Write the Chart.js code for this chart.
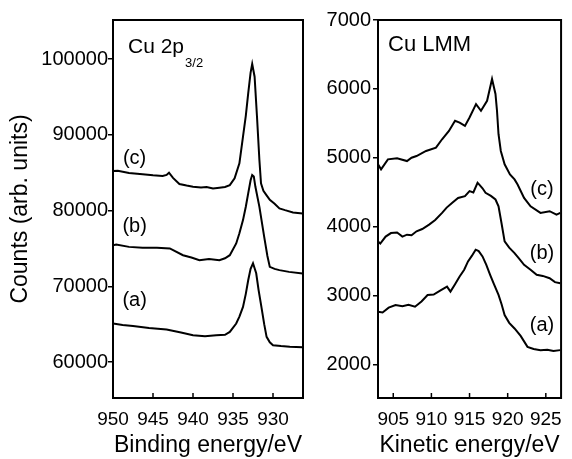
<!DOCTYPE html>
<html>
<head>
<meta charset="utf-8">
<script src="https://cdn.jsdelivr.net/npm/chart.js@4.4.0/dist/chart.umd.min.js"></script>
<style>
  body { margin: 0; background: #fff; }
  #left { position: absolute; left: 0; top: 0; }
  #right { position: absolute; left: 300px; top: 0; }
</style>
</head>
<body>
<canvas id="left" width="310" height="459"></canvas>
<canvas id="right" width="272" height="459"></canvas>
<script>
// Cu 2p3/2 spectra (binding energy, eV / counts)
const bindC = [950, 949.4, 948, 946.3, 945, 943.8, 943.3, 943.0, 942.5, 941.7, 940.8, 940, 939, 938.3, 937.5, 936.7, 936, 935.4, 934.8, 934.2, 933.75, 933.4, 933.1, 932.8, 932.6, 932.3, 932.0, 931.7, 931.5, 931.2, 930.8, 930.4, 929.8, 929.2, 928.5, 927.5, 926.3];
const countsC = [85200, 85250, 84950, 84800, 84650, 84550, 84700, 84990, 84300, 83500, 83300, 83150, 83050, 83100, 82900, 83000, 83100, 83350, 84240, 86220, 89740, 92500, 95470, 98200, 99340, 97660, 92380, 86660, 83580, 82600, 82000, 81400, 80900, 80280, 80050, 79750, 79620];
const bindB = [950, 949.6, 948, 946.3, 944.5, 942.9, 941.25, 940.2, 939.2, 938, 936.7, 936, 935.4, 934.6, 934.2, 933.75, 933.4, 933.1, 932.8, 932.6, 932.4, 932.2, 931.7, 931.1, 930.7, 930.4, 929.8, 929.2, 928, 926.3];
const countsB = [75400, 75520, 75200, 75070, 75100, 74990, 74100, 73800, 73450, 73600, 73450, 73700, 74100, 75650, 77000, 78730, 80500, 82260, 84000, 84680, 84500, 83130, 80490, 76530, 74000, 72560, 72300, 72130, 71900, 71690];
const bindA = [950, 948.8, 947.5, 945.5, 943.3, 941.5, 940, 938.5, 937.1, 936, 935.4, 934.6, 934.2, 933.75, 933.4, 933.1, 932.8, 932.5, 932.1, 931.8, 931.45, 931.1, 930.8, 930.4, 930, 929, 927.9, 926.3];
const countsA = [65080, 64900, 64770, 64500, 64300, 63900, 63540, 63400, 63540, 63600, 63980, 65080, 66000, 67280, 69000, 70800, 72300, 73030, 71710, 69500, 67280, 65000, 63320, 62600, 62220, 62100, 62000, 61960];

// Cu LMM spectra (kinetic energy, eV / counts)
const kinC = [903, 903.4, 904.3, 905.5, 906.8, 907.4, 908.05, 909.3, 910.6, 911.4, 912.3, 913.1, 913.7, 914.4, 915.0, 915.85, 916.5, 917.3, 917.95, 918.4, 918.6, 918.8, 919.1, 919.6, 920.3, 920.9, 921.3, 922.15, 923.0, 924.3, 925.5, 926.4, 926.9];
const lmmC = [4908, 4835, 4980, 4995, 4955, 5003, 5028, 5101, 5149, 5271, 5392, 5538, 5513, 5465, 5586, 5781, 5684, 5829, 6145, 5927, 5684, 5344, 5101, 4908, 4762, 4689, 4616, 4421, 4300, 4203, 4228, 4179, 4203];
const kinB = [903, 903.3, 904.0, 904.7, 905.5, 906.2, 906.8, 907.4, 908.05, 908.8, 909.7, 910.5, 911.4, 912.0, 912.7, 913.5, 914.4, 915.0, 915.5, 916.05, 916.25, 916.7, 917.1, 917.8, 918.4, 918.8, 919.2, 919.6, 920.2, 920.9, 921.5, 922.15, 923.0, 923.8, 924.6, 925.5, 926.2, 926.9];
const lmmB = [3790, 3760, 3860, 3911, 3920, 3860, 3888, 3880, 3937, 3970, 4034, 4100, 4203, 4280, 4348, 4420, 4446, 4520, 4500, 4640, 4616, 4560, 4494, 4450, 4398, 4300, 4050, 3790, 3700, 3620, 3540, 3451, 3380, 3306, 3290, 3257, 3200, 3184];
const kinA = [903, 903.6, 904.4, 905.3, 906.2, 907.0, 907.85, 908.7, 909.5, 910.3, 911.2, 912.05, 912.5, 913.1, 913.7, 914.3, 914.8, 915.3, 915.8, 916.2, 916.7, 917.2, 917.7, 918.2, 918.8, 919.2, 919.6, 920.2, 920.9, 921.7, 922.6, 923.4, 924.3, 925.2, 926.0, 926.9];
const lmmA = [2771, 2760, 2830, 2869, 2850, 2870, 2844, 2920, 3014, 3020, 3080, 3135, 3063, 3170, 3281, 3380, 3500, 3580, 3670, 3650, 3572, 3450, 3306, 3170, 3014, 2880, 2723, 2610, 2528, 2420, 2262, 2230, 2214, 2220, 2200, 2214];

// tick labels
const bindTicks = [950, 945, 940, 935, 930];
const countTicks = [60000, 70000, 80000, 90000, 100000];
const kinTicks = [905, 910, 915, 920, 925];
const lmmTicks = [2000, 3000, 4000, 5000, 6000, 7000];

// curve labels: [text, energy, counts]
const bindLabels = [["(c)", 947.3, 86920], ["(b)", 947.3, 77850], ["(a)", 947.3, 68160]];
const kinLabels = [["(c)", 924.5, 4543], ["(b)", 924.5, 3620], ["(a)", 924.5, 2578]];

const FONT = "'Liberation Sans', Arial, sans-serif";

function toPoints(xs, ys) {
    return xs.map((x, i) => ({ x: x, y: ys[i] }));
}

function lineSet(xs, ys) {
    return {
        data: toPoints(xs, ys),
        borderColor: "#000",
        borderWidth: 2,
        pointRadius: 0,
        tension: 0,
        fill: false,
    };
}

// frame, inward x ticks, curve labels and panel title
function decorPlugin(labels, drawTitle) {
    return {
        id: "decor",
        afterDraw(chart) {
            const ctx = chart.ctx;
            const area = chart.chartArea;
            const xs = chart.scales.x, ys = chart.scales.y;
            ctx.save();
            ctx.strokeStyle = "#000";
            ctx.lineWidth = 2;
            ctx.strokeRect(area.left, area.top, area.right - area.left, area.bottom - area.top);
            ctx.lineWidth = 1.5;
            xs.ticks.forEach((t) => {
                const px = xs.getPixelForValue(t.value);
                ctx.beginPath();
                ctx.moveTo(px, area.bottom);
                ctx.lineTo(px, area.bottom - 5);
                ctx.stroke();
            });
            ctx.fillStyle = "#000";
            ctx.font = "20px " + FONT;
            ctx.textAlign = "center";
            ctx.textBaseline = "middle";
            labels.forEach((l) => {
                ctx.fillText(l[0], xs.getPixelForValue(l[1]), ys.getPixelForValue(l[2]));
            });
            drawTitle(ctx, area);
            ctx.restore();
        },
    };
}

function makeChart(id, sets, o) {
    return new Chart(document.getElementById(id), {
        type: "line",
        data: { datasets: sets },
        options: {
            responsive: false,
            animation: false,
            devicePixelRatio: 1,
            layout: { padding: { top: 20, right: o.padRight, left: 0, bottom: 0 } },
            plugins: { legend: { display: false }, tooltip: { enabled: false } },
            scales: {
                x: {
                    type: "linear",
                    min: o.xMin,
                    max: o.xMax,
                    reverse: o.reverse,
                    afterBuildTicks: (s) => { s.ticks = o.xTicks.map((v) => ({ value: v })); },
                    afterFit: (s) => { s.height = 61; },
                    grid: { display: true, drawOnChartArea: false, drawTicks: false },
                    border: { display: false },
                    ticks: { color: "#000", font: { family: FONT, size: 19 }, padding: 10,
                             maxRotation: 0, autoSkip: false, callback: (v) => String(v) },
                    title: { display: true, text: o.xTitle, color: "#000",
                             font: { family: FONT, size: 23 }, padding: { top: 0, bottom: 0 } },
                },
                y: {
                    min: o.yMin,
                    max: o.yMax,
                    afterBuildTicks: (s) => { s.ticks = o.yTicks.map((v) => ({ value: v })); },
                    afterFit: (s) => { s.width = o.yWidth; },
                    grid: { display: true, drawOnChartArea: false, drawTicks: true, tickLength: 5,
                            color: "#000", lineWidth: 1.5 },
                    border: { display: false },
                    ticks: { color: "#000", font: { family: FONT, size: 20 }, padding: o.yPad,
                             callback: (v) => String(v) },
                    title: { display: !!o.yTitle, text: o.yTitle || "", color: "#000",
                             font: { family: FONT, size: 23 }, padding: { top: 7, bottom: 0 } },
                },
            },
        },
        plugins: [decorPlugin(o.labels, o.title)],
    });
}

makeChart("left", [lineSet(bindC, countsC), lineSet(bindB, countsB), lineSet(bindA, countsA)], {
    padRight: 7, yWidth: 113, yPad: 0,
    xMin: 926.25, xMax: 950, reverse: true, xTicks: bindTicks,
    yMin: 55250, yMax: 105150, yTicks: countTicks,
    xTitle: "Binding energy/eV", yTitle: "Counts (arb. units)",
    labels: bindLabels,
    title: (ctx, area) => {
        ctx.textAlign = "left";
        ctx.textBaseline = "alphabetic";
        ctx.font = "21px " + FONT;
        ctx.fillText("Cu 2p", area.left + 15, area.top + 33);
        const w = ctx.measureText("Cu 2p").width;
        ctx.font = "13px " + FONT;
        ctx.fillText("3/2", area.left + 16 + w, area.top + 47);
    },
});

makeChart("right", [lineSet(kinC, lmmC), lineSet(kinB, lmmB), lineSet(kinA, lmmA)], {
    padRight: 4, yWidth: 78, yPad: 2,
    xMin: 903, xMax: 927, reverse: false, xTicks: kinTicks,
    yMin: 1520, yMax: 7000, yTicks: lmmTicks,
    xTitle: "Kinetic energy/eV", yTitle: null,
    labels: kinLabels,
    title: (ctx, area) => {
        ctx.textAlign = "left";
        ctx.textBaseline = "alphabetic";
        ctx.font = "22px " + FONT;
        ctx.fillText("Cu LMM", area.left + 10, area.top + 31);
    },
});
</script>
</body>
</html>
